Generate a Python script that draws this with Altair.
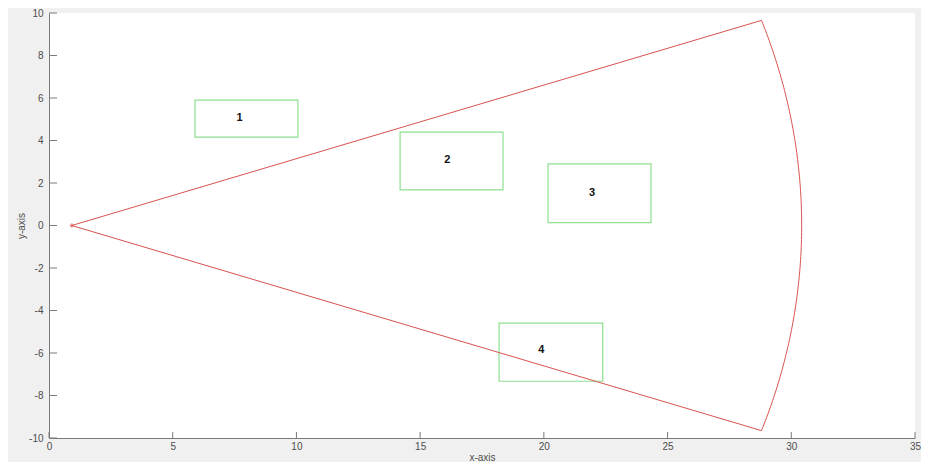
import altair as alt
import pandas as pd
import numpy as np

# ---- data ----
x_ticks = [0, 5, 10, 15, 20, 25, 30, 35]
y_ticks = [-10, -8, -6, -4, -2, 0, 2, 4, 6, 8, 10]

# sector (field of view) parameters
origin_x, origin_y = 0.92, 0.0
radius = 29.5
half_angle_deg = 19.1

# rectangles
rect_ids = ["1", "2", "3", "4"]
rect_x1 = [5.90, 14.19, 20.17, 18.19]
rect_x2 = [10.06, 18.35, 24.33, 22.38]
rect_y1 = [4.16, 1.68, 0.14, -7.33]
rect_y2 = [5.90, 4.39, 2.90, -4.59]
label_x = [7.7, 16.1, 21.95, 19.9]
label_y = [5.05, 3.1, 1.55, -5.85]

# ---- build tables ----
angles = np.linspace(-half_angle_deg, half_angle_deg, 121)
arc_x = origin_x + radius * np.cos(np.radians(angles))
arc_y = origin_y + radius * np.sin(np.radians(angles))
wx = [origin_x] + list(arc_x) + [origin_x]
wy = [origin_y] + list(arc_y) + [origin_y]
wedge = pd.DataFrame({"x": wx, "y": wy, "o": range(len(wx))})

rects = pd.DataFrame({"id": rect_ids, "x": rect_x1, "x2": rect_x2,
                      "y": rect_y1, "y2": rect_y2})
labels = pd.DataFrame({"id": rect_ids, "x": label_x, "y": label_y})
origin = pd.DataFrame({"x": [origin_x], "y": [origin_y]})
xt = pd.DataFrame({"x": x_ticks})
yt = pd.DataFrame({"y": y_ticks})

W, H = 866, 425
xs = alt.Scale(domain=[0, 35], nice=False, zero=False)
ys = alt.Scale(domain=[-10, 10], nice=False, zero=False)
xaxis = alt.Axis(values=x_ticks, title="x-axis", grid=False, ticks=False,
                 labelPadding=3, titlePadding=1, labelFlush=False,
                 labelExpr="'' + datum.value")
yaxis = alt.Axis(values=y_ticks, title="y-axis", grid=False, ticks=False,
                 labelPadding=6, titlePadding=2, labelFlush=False,
                 labelExpr="'' + datum.value")


def X(f, **kw):
    return alt.X(f, type="quantitative", scale=xs, axis=xaxis, **kw)


def Y(f, **kw):
    return alt.Y(f, type="quantitative", scale=ys, axis=yaxis, **kw)


RED = "#d9534f"
GREEN = "#8fe08f"

wedge_layer = alt.Chart(wedge).mark_line(color=RED, strokeWidth=1).encode(
    x=X("x"), y=Y("y"), order="o:Q")

rect_layer = alt.Chart(rects).mark_rect(
    fill="white", fillOpacity=0, stroke=GREEN, strokeWidth=1.2).encode(
    x=X("x"), x2="x2", y=Y("y"), y2="y2")

text_layer = alt.Chart(labels).mark_text(
    font="Liberation Sans", fontWeight="bold", fontSize=11, color="#111111"
).encode(x=X("x"), y=Y("y"), text="id:N")

origin_layer = alt.Chart(origin).mark_point(
    shape="cross", size=18, filled=True, color=RED).encode(x=X("x"), y=Y("y"))

xtick_layer = alt.Chart(xt).mark_rule(color="#7a7a7a", strokeWidth=1).encode(
    x=X("x"), y=alt.value(H), y2=alt.value(H - 6))

ytick_layer = alt.Chart(yt).mark_rule(color="#7a7a7a", strokeWidth=1).encode(
    y=Y("y"), x=alt.value(0), x2=alt.value(8))

chart = alt.layer(
    rect_layer, wedge_layer, origin_layer, text_layer, xtick_layer, ytick_layer
).properties(
    width=W, height=H,
    background="#f0f0f0",
    padding={"left": 41, "top": 5, "right": 6, "bottom": 24},
    autosize=alt.AutoSizeParams(type="none"),
).configure_view(
    fill="white", stroke=None
).configure_axis(
    domainColor="#7a7a7a", domainWidth=1,
    labelFont="Liberation Sans", labelFontSize=10, labelColor="#4d4d4d",
    titleFont="Liberation Sans", titleFontSize=10, titleColor="#4d4d4d",
    titleFontWeight="normal",
)

chart.save("out.html", embed_options={"renderer": "svg", "actions": False})
